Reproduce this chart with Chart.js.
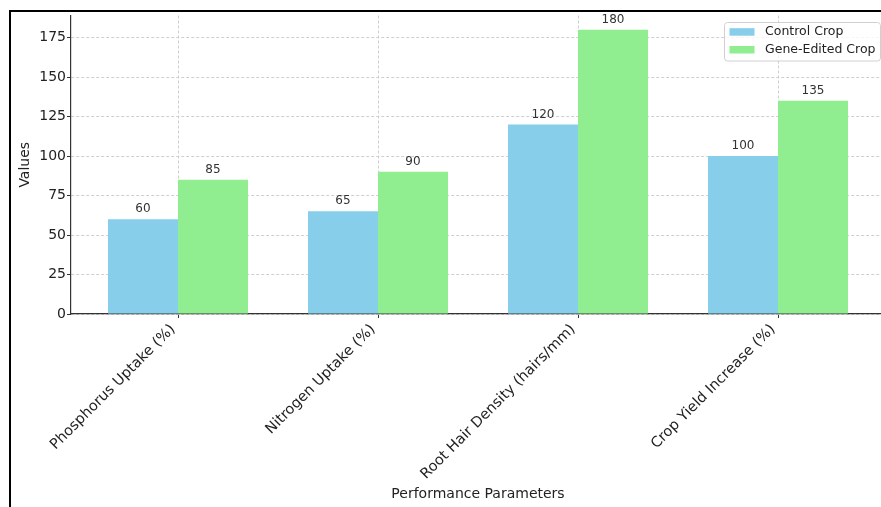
<!DOCTYPE html>
<html>
<head>
<meta charset="utf-8">
<script src="https://cdn.jsdelivr.net/npm/chart.js@4"></script>
<style>
  html, body { margin: 0; padding: 0; background: #fff; overflow: hidden; width: 881px; height: 507px; }
  #wrap { position: absolute; left: 0; top: 0; width: 890px; height: 507px; }
  #frame { position: absolute; left: 9px; top: 10px; width: 1000px; height: 600px; border-left: 2px solid #000; border-top: 2px solid #000; pointer-events: none; }
</style>
</head>
<body>
<div id="wrap"><canvas id="c" width="890" height="507"></canvas></div>
<div id="frame"></div>
<script>
const categories = ['Phosphorus Uptake (%)', 'Nitrogen Uptake (%)', 'Root Hair Density (hairs/mm)', 'Crop Yield Increase (%)'];
const seriesNames = ['Control Crop', 'Gene-Edited Crop'];
const controlValues = [60, 65, 120, 100];
const geneEditedValues = [85, 90, 180, 135];
const yTickValues = [0, 25, 50, 75, 100, 125, 150, 175];
const seriesColors = ['#87CEEB', '#90EE90'];

const FONT = "'DejaVu Sans', sans-serif";

const valueLabels = {
  id: 'valueLabels',
  afterDatasetsDraw(chart) {
    const ctx = chart.ctx;
    ctx.save();
    ctx.font = '12px ' + FONT;
    ctx.fillStyle = '#333';
    ctx.textAlign = 'center';
    ctx.textBaseline = 'bottom';
    chart.data.datasets.forEach((ds, di) => {
      chart.getDatasetMeta(di).data.forEach((bar, i) => {
        ctx.fillText(String(ds.data[i].y), bar.x, bar.y - 4);
      });
    });
    ctx.restore();
  }
};

const boxLegend = {
  id: 'boxLegend',
  afterDraw(chart) {
    const ctx = chart.ctx;
    const x0 = 724.5, y0 = 22.5, w = 156, h = 38.5, r = 3;
    ctx.save();
    ctx.fillStyle = 'rgba(255,255,255,0.8)';
    ctx.strokeStyle = '#d0d0d0';
    ctx.lineWidth = 1;
    ctx.beginPath();
    ctx.roundRect(x0, y0, w, h, r);
    ctx.fill();
    ctx.stroke();
    ctx.font = '12.5px ' + FONT;
    ctx.textAlign = 'left';
    ctx.textBaseline = 'middle';
    chart.data.datasets.forEach((ds, i) => {
      const cy = 31.7 + i * 17.8;
      ctx.fillStyle = ds.backgroundColor;
      ctx.fillRect(729.5, cy - 3.5, 25, 7.5);
      ctx.fillStyle = '#222';
      ctx.fillText(ds.label, 765, cy + 0.5);
    });
    ctx.restore();
  }
};

const toPoints = arr => arr.map((v, i) => ({ x: i, y: v }));

new Chart(document.getElementById('c'), {
  type: 'bar',
  data: {
    datasets: [
      { label: seriesNames[0], data: toPoints(controlValues), backgroundColor: seriesColors[0] },
      { label: seriesNames[1], data: toPoints(geneEditedValues), backgroundColor: seriesColors[1] }
    ]
  },
  options: {
    responsive: false,
    animation: false,
    devicePixelRatio: 1,
    categoryPercentage: 0.7,
    barPercentage: 1.0,
    layout: { padding: { left: 0, top: 15.5, right: 5, bottom: 0 } },
    plugins: { legend: { display: false }, tooltip: { enabled: false } },
    scales: {
      x: {
        type: 'linear',
        min: -0.535,
        max: 3.535,
        offset: false,
        afterBuildTicks: s => { s.ticks = categories.map((c, i) => ({ value: i })); },
        afterFit: s => { s.height = 193; },
        ticks: {
          autoSkip: false,
          minRotation: 45,
          maxRotation: 45,
          padding: 3,
          labelOffset: -5,
          color: '#222',
          font: { family: FONT, size: 14.5 },
          callback: v => categories[v]
        },
        grid: { offset: false, color: '#cfcfcf', tickLength: 4, tickColor: '#333', tickBorderDash: [0, 0], drawTicks: true },
        border: { display: true, color: '#333', width: 1.2, dash: [3, 2] },
        title: { display: true, text: 'Performance Parameters', color: '#222', font: { family: FONT, size: 14 }, padding: { top: 0, bottom: 4 } }
      },
      y: {
        min: 0,
        max: 189,
        afterBuildTicks: s => { s.ticks = yTickValues.map(v => ({ value: v })); },
        afterFit: s => { s.width = 71; },
        ticks: { padding: 1, color: '#222', font: { family: FONT, size: 14 } },
        grid: { color: '#cfcfcf', tickLength: 4, tickColor: '#333', tickBorderDash: [0, 0] },
        border: { display: true, color: '#333', width: 1.2, dash: [3, 2] },
        title: { display: true, text: 'Values', color: '#222', font: { family: FONT, size: 14 }, padding: { top: 16.6, bottom: 0 } }
      }
    }
  },
  plugins: [valueLabels, boxLegend]
});
</script>
</body>
</html>
